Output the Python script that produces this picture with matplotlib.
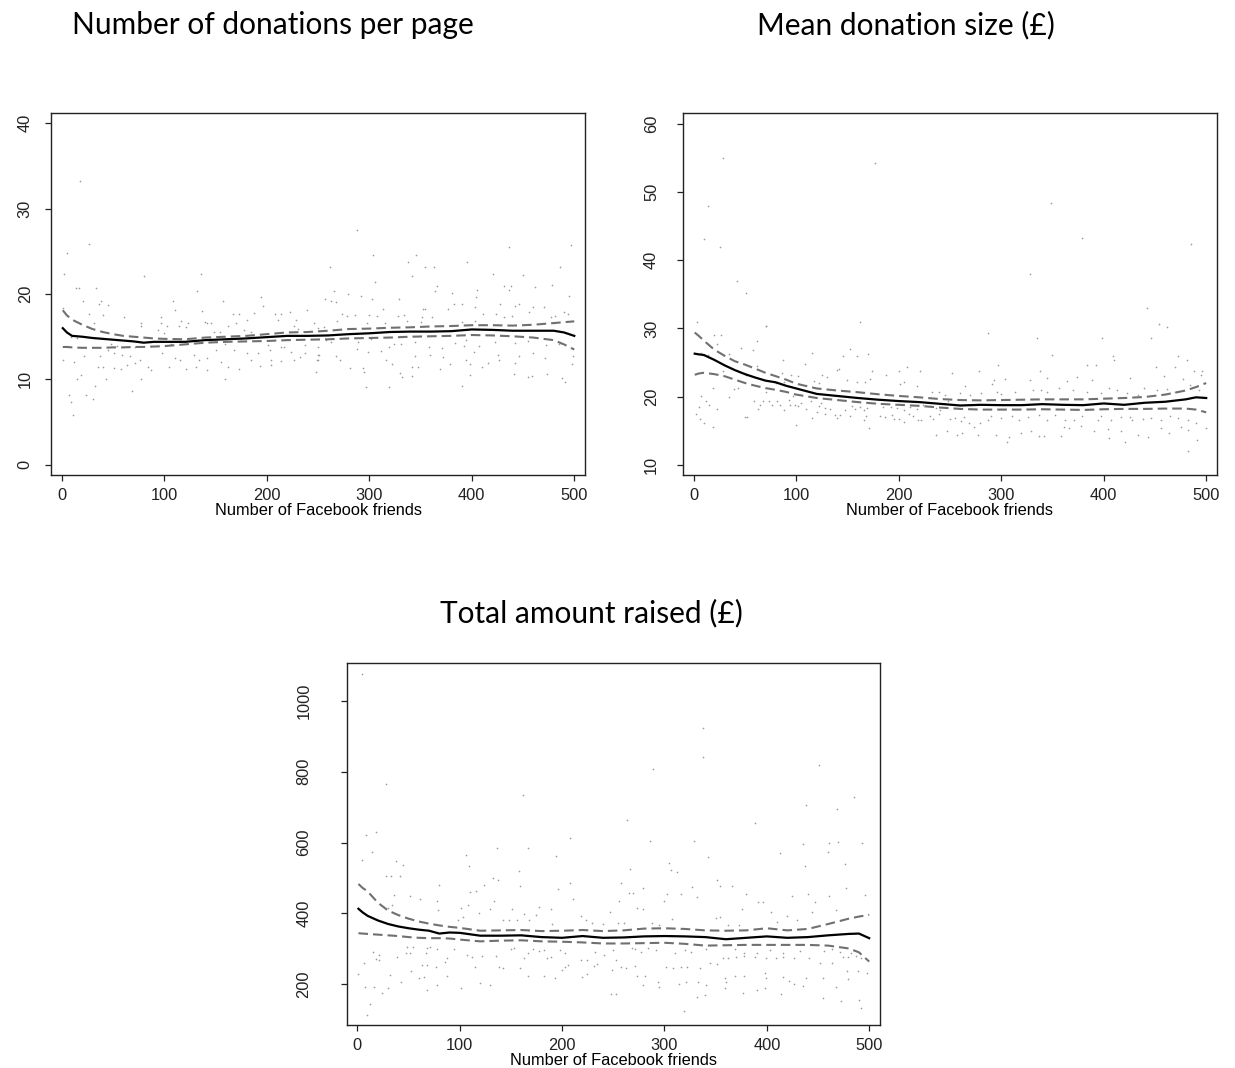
import matplotlib
matplotlib.use("Agg")
import matplotlib.pyplot as plt

# x grid (number of Facebook friends) for the smoothed curves
friends = [1, 5, 10, 20, 30, 40, 50, 60, 70, 80, 90, 100, 120, 140, 160, 180, 200,
           220, 240, 260, 280, 300, 320, 340, 360, 380, 400, 420, 440, 460, 480, 490, 500]

# --- Number of donations per page ---
don_mean = [16.0, 15.5, 15.1, 15.0, 14.85, 14.75, 14.65, 14.55, 14.45, 14.3, 14.4, 14.4, 14.4,
            14.6, 14.7, 14.8, 14.95, 15.1, 15.1, 15.15, 15.3, 15.4, 15.55, 15.6, 15.6, 15.65,
            15.85, 15.8, 15.7, 15.7, 15.7, 15.5, 15.1]
don_hi = [18.1, 17.5, 17.0, 16.4, 15.9, 15.55, 15.3, 15.1, 15.0, 14.9, 14.8, 14.75, 14.7, 14.9,
          15.0, 15.1, 15.3, 15.5, 15.55, 15.7, 15.9, 15.95, 16.05, 16.1, 16.2, 16.25, 16.35,
          16.35, 16.3, 16.4, 16.6, 16.7, 16.8]
don_lo = [13.8, 13.8, 13.75, 13.7, 13.7, 13.7, 13.75, 13.75, 13.8, 13.8, 13.85, 13.9, 14.1, 14.3,
          14.4, 14.45, 14.5, 14.6, 14.65, 14.7, 14.8, 14.85, 14.9, 15.0, 15.05, 15.1, 15.2,
          15.15, 15.05, 14.9, 14.6, 14.1, 13.5]
don_dots = [
    (2, 22.4), (80, 22.1), (136, 22.3), (14, 20.7), (17, 20.7), (33, 20.7), (132, 20.4),
    (21, 19.2), (38, 19.2), (109, 19.2), (157, 19.2), (194, 19.7), (36, 18.8), (45, 18.7),
    (196, 18.6), (1, 18.4), (110, 18.1), (137, 18.0), (27, 17.7), (40, 17.6), (61, 17.3),
    (97, 17.3), (167, 17.65), (173, 17.65), (188, 17.8), (208, 17.7), (214, 17.65), (223, 17.9),
    (239, 18.1), (31, 16.6), (77, 16.6), (97, 16.6), (116, 16.8), (140, 16.7), (146, 16.6),
    (181, 17.0), (211, 17.0), (229, 17.0), (246, 16.6), (77, 16.2), (103, 16.3), (121, 16.1),
    (123, 16.6), (142, 16.6), (162, 16.3), (170, 16.6), (94, 15.8), (100, 15.4), (114, 16.2),
    (149, 15.6), (154, 15.6), (178, 15.8), (185, 15.6), (227, 16.2), (230, 15.9), (9, 15.0),
    (15, 14.8), (48, 14.1), (54, 13.9), (71, 13.8), (87, 13.9), (107, 14.2), (133, 14.6),
    (159, 14.2), (175, 14.5), (201, 14.0), (217, 13.8), (237, 14.0), (250, 13.8), (1, 12.3),
    (12, 12.0), (22, 12.7), (37, 12.7), (45, 13.4), (51, 13.1), (59, 12.9), (67, 12.7),
    (76, 12.3), (98, 13.1), (110, 12.5), (115, 12.3), (129, 12.9), (134, 12.3), (142, 12.5),
    (150, 13.4), (155, 12.0), (168, 13.4), (181, 13.1), (185, 12.3), (191, 13.1), (203, 13.4),
    (204, 12.3), (214, 13.8), (224, 13.2), (227, 12.3), (232, 12.6), (237, 13.05), (251, 12.9),
    (35, 11.4), (40, 11.4), (51, 11.3), (58, 11.2), (64, 11.7), (71, 11.9), (84, 11.5),
    (87, 11.1), (105, 11.4), (121, 11.2), (131, 11.4), (142, 11.1), (162, 11.4), (173, 11.2),
    (193, 11.6), (204, 11.7), (214, 12.1), (250, 12.3), (15, 10.1), (19, 10.5), (43, 10.1),
    (77, 10.1), (159, 10.0), (32, 9.2), (69, 8.7), (7, 8.2), (24, 8.2), (30, 7.7), (9, 7.3),
    (11, 5.8),
    (18, 33.2), (27, 25.9), (5, 24.8), (288, 27.5), (304, 24.6), (346, 24.6), (436, 25.5),
    (497, 25.7), (338, 23.8), (395, 23.7), (262, 23.2), (354, 23.2), (363, 23.2), (486, 23.2),
    (342, 22.1), (421, 22.3), (450, 22.2), (306, 21.4), (366, 20.9), (431, 20.9), (438, 20.9),
    (462, 20.85), (478, 21.0), (266, 20.4), (364, 20.3), (381, 20.15), (405, 20.5), (436, 20.5),
    (257, 19.4), (263, 19.2), (268, 19.1), (279, 20.0), (292, 19.8), (303, 19.4), (329, 19.4),
    (404, 19.7), (495, 19.8), (383, 18.8), (390, 18.8), (403, 18.5), (428, 18.8), (442, 18.6),
    (446, 18.8), (460, 18.5), (470, 18.5), (313, 18.2), (352, 18.2), (354, 18.2), (377, 18.3),
    (273, 17.7), (278, 17.4), (286, 17.6), (300, 17.5), (308, 17.4), (328, 17.4), (334, 17.6),
    (351, 17.3), (361, 17.3), (411, 17.7), (424, 17.7), (431, 17.3), (439, 17.4), (456, 17.9),
    (477, 17.3), (481, 17.4), (490, 17.9), (494, 17.7), (269, 16.8), (298, 16.6), (315, 16.6),
    (337, 16.8), (350, 16.7), (390, 16.7), (403, 16.8), (480, 16.6), (256, 16.1), (250, 16.0),
    (258, 14.6), (263, 14.4), (289, 14.4), (302, 14.7), (324, 14.2), (331, 14.1), (345, 14.4),
    (358, 13.8), (371, 13.7), (384, 14.3), (392, 13.9), (394, 14.6), (407, 13.9), (423, 14.4),
    (442, 14.3), (455, 14.5), (472, 14.0), (485, 14.2), (288, 13.6), (299, 13.2), (311, 13.3),
    (319, 13.75), (359, 12.9), (372, 12.6), (402, 13.2), (426, 12.9), (446, 12.7), (460, 13.1),
    (249, 12.3), (268, 12.7), (271, 12.3), (316, 12.3), (322, 11.8), (345, 12.7), (379, 11.8),
    (394, 12.3), (398, 11.8), (410, 11.4), (416, 11.9), (442, 11.96), (471, 12.5), (499, 12.7),
    (498, 11.8), (281, 11.3), (294, 11.3), (295, 10.9), (342, 11.4), (348, 11.4), (369, 11.2),
    (427, 12.3), (441, 10.6), (455, 10.3), (459, 10.4), (473, 10.6), (488, 10.2), (491, 9.66),
    (330, 10.7), (332, 10.3), (342, 10.4), (248, 10.9), (297, 9.15), (319, 9.1), (390, 9.2),
    (398, 10.5), (250, 12.9),
]

# --- Mean donation size (GBP) ---
size_mean = [26.3, 26.2, 26.1, 25.4, 24.6, 23.9, 23.3, 22.8, 22.35, 22.1, 21.6, 21.2, 20.4,
             20.1, 19.8, 19.55, 19.35, 19.2, 18.95, 18.7, 18.8, 18.75, 18.75, 18.9, 18.8, 18.75,
             19.0, 18.8, 19.1, 19.25, 19.6, 19.9, 19.8]
size_hi = [29.4, 28.9, 28.2, 26.9, 26.0, 25.2, 24.7, 24.1, 23.5, 23.0, 22.5, 21.9, 21.2, 20.9,
           20.65, 20.35, 20.1, 19.9, 19.65, 19.5, 19.45, 19.5, 19.55, 19.6, 19.6, 19.6, 19.7,
           19.8, 19.95, 20.3, 20.9, 21.4, 22.0]
size_lo = [23.2, 23.4, 23.5, 23.3, 23.0, 22.5, 22.0, 21.6, 21.25, 21.0, 20.7, 20.3, 19.8, 19.5,
           19.2, 18.95, 18.8, 18.65, 18.4, 18.2, 18.1, 18.1, 18.1, 18.15, 18.1, 18.05, 18.15,
           18.2, 18.2, 18.25, 18.25, 18.1, 17.7]
size_dots = [
    (3, 30.9), (71, 30.4), (162, 30.9), (20, 29.1), (27, 29.1), (62, 28.1), (23, 27.7),
    (58, 26.9), (46, 27.1), (14, 26.1), (7, 26.4), (34, 26.3), (115, 26.4), (152, 27.0),
    (159, 25.9), (170, 26.3), (87, 25.4), (146, 25.9), (62, 24.5), (109, 24.8), (140, 23.9),
    (142, 24.0), (29, 23.7), (86, 23.5), (95, 23.1), (102, 23.05), (51, 23.2), (125, 23.2),
    (174, 23.7), (188, 23.2), (200, 23.7), (208, 24.3), (221, 23.7), (252, 23.5), (19, 21.2),
    (39, 21.1), (43, 21.2), (63, 21.5), (71, 20.75), (80, 21.97), (88, 22.2), (117, 22.3),
    (122, 21.97), (130, 22.9), (150, 22.5), (159, 22.2), (167, 22.2), (172, 22.6), (201, 21.9),
    (205, 22.2), (218, 21.5), (232, 20.75), (239, 20.75), (245, 20.3), (34, 20.0), (7, 20.1),
    (12, 19.4), (5, 18.5), (15, 18.7), (23, 18.2), (59, 19.4), (65, 18.8), (68, 19.4),
    (73, 19.4), (76, 18.7), (81, 19.3), (84, 18.7), (88, 18.1), (93, 19.5), (94, 18.7),
    (97, 20.1), (99, 18.8), (102, 18.6), (105, 19.0), (110, 18.2), (114, 19.3), (120, 17.8),
    (122, 18.6), (124, 19.0), (128, 18.3), (148, 18.1), (154, 18.6), (157, 18.2), (162, 18.5),
    (166, 18.1), (169, 18.3), (177, 19.0), (185, 18.5), (192, 18.5), (198, 18.3), (205, 18.1),
    (211, 18.5), (218, 18.2), (224, 18.8), (231, 18.6), (236, 18.3), (240, 18.1), (2, 17.5),
    (6, 16.7), (10, 16.2), (19, 15.6), (50, 17.0), (52, 17.0), (100, 15.9), (115, 16.8),
    (128, 17.4), (138, 17.3), (140, 16.8), (152, 17.1), (166, 16.6), (168, 17.2), (182, 17.1),
    (187, 17.0), (193, 17.3), (195, 16.7), (200, 16.7), (205, 16.3), (210, 17.5), (214, 17.1),
    (219, 16.6), (222, 16.5), (231, 17.1), (233, 16.7), (239, 17.5), (171, 15.4), (236, 14.4),
    (63, 18.2), (133, 18.2), (143, 17.3),
    (29, 55.0), (177, 54.3), (14, 48.0), (10, 43.1), (26, 42.0), (42, 36.9), (51, 35.2),
    (71, 30.4),
    (349, 48.4), (379, 43.3), (485, 42.4), (328, 38.0), (442, 33.0), (454, 30.6), (462, 30.2),
    (287, 29.3), (335, 28.6), (398, 28.6), (446, 28.6), (350, 26.1), (409, 25.9), (472, 26.0),
    (297, 24.7),
    (410, 25.3), (481, 25.3), (278, 23.8), (338, 23.8), (384, 24.7), (392, 24.7), (451, 24.4),
    (470, 24.3), (488, 23.8), (496, 23.8), (293, 22.4), (304, 22.6), (328, 22.5), (345, 22.7),
    (364, 22.3), (374, 22.9), (389, 22.5), (426, 22.7), (459, 23.05), (477, 22.6), (495, 23.2),
    (265, 21.6), (260, 20.6), (270, 20.3), (280, 20.6), (291, 21.9), (296, 20.75), (300, 20.4),
    (313, 20.75), (331, 20.9), (339, 21.0), (345, 20.75), (356, 21.2), (370, 21.0), (384, 20.75),
    (397, 20.6), (405, 21.2), (413, 20.9), (423, 20.5), (433, 20.3), (439, 21.2), (452, 20.9),
    (462, 21.1), (470, 20.75), (484, 21.7), (493, 21.0), (248, 19.3), (250, 16.7), (255, 16.8),
    (261, 16.4), (264, 17.0), (269, 16.1), (273, 15.6), (279, 16.2), (287, 16.6), (290, 17.1),
    (300, 16.8), (311, 17.1), (317, 16.6), (326, 17.0), (337, 17.3), (345, 16.6), (352, 17.3),
    (362, 16.5), (371, 16.6), (379, 17.1), (394, 16.6), (397, 17.1), (407, 16.6), (417, 17.0),
    (426, 17.0), (438, 16.7), (446, 16.8), (456, 16.6), (465, 17.1), (472, 16.8), (482, 16.6),
    (490, 16.2), (500, 15.4), (247, 15.0), (257, 14.4), (262, 14.6), (277, 14.4), (295, 14.4),
    (308, 14.1), (319, 14.7), (329, 14.9), (337, 14.3), (358, 14.2), (366, 15.4), (378, 15.7),
    (391, 14.9), (404, 15.2), (417, 15.0), (433, 14.4), (443, 14.1), (456, 15.4), (475, 15.6),
    (482, 15.1), (428, 16.6), (405, 13.9), (421, 13.3), (464, 14.6), (491, 13.6), (482, 12.1),
    (306, 13.3), (342, 14.2), (361, 15.5),
]

# --- Total amount raised (GBP) ---
total_mean = [413, 403, 393, 380, 370, 363, 358, 354, 351, 343, 346, 345, 337, 337, 338, 333,
              331, 336, 331, 332, 335, 336, 335, 333, 327, 331, 335, 331, 333, 338, 342, 343, 330]
total_hi = [483, 472, 462, 430, 408, 395, 385, 377, 371, 366, 362, 359, 351, 352, 353, 350,
            351, 353, 350, 352, 357, 358, 356, 352, 351, 352, 358, 352, 356, 370, 385, 391, 396]
total_lo = [344, 343, 342, 340, 338, 336, 333, 331, 330, 330, 329, 326, 321, 323, 324, 321,
            320, 318, 315, 315, 316, 317, 314, 309, 310, 311, 311, 311, 311, 309, 301, 290, 264]
total_dots = [
    (14, 572), (4, 551), (106, 565), (194, 562), (38, 549), (45, 537), (109, 534), (158, 521),
    (28, 506), (33, 506), (42, 506), (132, 501), (137, 493), (124, 481), (208, 487), (80, 481),
    (159, 476), (196, 469), (36, 452), (51, 449), (61, 440), (110, 459), (116, 462), (78, 436),
    (133, 436), (211, 440), (108, 424), (34, 424), (30, 415), (79, 410), (101, 415), (119, 402),
    (130, 412), (151, 412), (163, 399), (177, 417), (174, 396), (189, 412), (218, 393),
    (223, 380), (229, 374), (240, 370), (142, 382), (148, 382), (156, 380), (168, 382),
    (190, 370), (98, 380), (103, 391), (48, 304), (54, 304), (68, 302), (71, 306), (78, 299),
    (47, 288), (51, 288), (21, 283), (39, 276), (15, 292), (6, 259), (1, 229), (18, 271),
    (21, 267), (67, 288), (94, 299), (107, 283), (112, 278), (122, 280), (135, 280), (150, 299),
    (153, 302), (163, 273), (167, 288), (172, 299), (177, 295), (182, 297), (185, 273),
    (189, 276), (198, 297), (203, 288), (218, 269), (224, 269), (232, 292), (241, 283),
    (250, 297), (63, 255), (68, 255), (77, 250), (88, 273), (86, 264), (115, 248), (138, 250),
    (142, 245), (159, 245), (167, 222), (182, 224), (193, 217), (200, 240), (203, 250),
    (206, 255), (219, 219), (224, 228), (231, 252), (234, 257), (32, 226), (52, 236), (60, 217),
    (65, 220), (88, 223), (7, 193), (16, 192), (24, 176), (30, 189), (43, 207), (68, 184),
    (78, 198), (101, 189), (120, 203), (130, 198), (12, 144), (9, 113), (253, 173),
    (4, 1077), (28, 766), (162, 735), (8, 622), (18, 631), (208, 612), (167, 584), (136, 584),
    (338, 923), (338, 841), (451, 818), (289, 808), (485, 728), (438, 706), (469, 695),
    (388, 656), (263, 664), (286, 603), (329, 603), (435, 596), (461, 598), (470, 601),
    (493, 598), (413, 570), (343, 560), (304, 542), (312, 518), (266, 526), (437, 535),
    (476, 538), (351, 495), (366, 476), (279, 473), (496, 452),
    (460, 572), (306, 523), (258, 485), (265, 457), (269, 457), (302, 455), (316, 455),
    (332, 445), (354, 478), (327, 474), (380, 455), (425, 448), (440, 454), (461, 448),
    (477, 471), (256, 434), (273, 415), (279, 412), (300, 434), (391, 431), (396, 431),
    (404, 405), (376, 412), (447, 431), (468, 410), (420, 393), (429, 382), (444, 405),
    (307, 384), (350, 386), (354, 391), (373, 368), (410, 377), (255, 372), (260, 372),
    (288, 372), (295, 368), (362, 368), (247, 405), (268, 302), (271, 299), (277, 292),
    (284, 302), (292, 297), (310, 288), (320, 297), (326, 292), (341, 300), (369, 299),
    (378, 288), (390, 288), (403, 297), (416, 289), (432, 295), (456, 295), (464, 299),
    (471, 292), (474, 278), (479, 278), (482, 288), (487, 280), (492, 273), (253, 269),
    (258, 250), (262, 247), (271, 252), (301, 250), (308, 245), (316, 248), (322, 250),
    (335, 245), (344, 261), (351, 257), (357, 273), (362, 273), (370, 278), (378, 280),
    (388, 276), (399, 273), (409, 273), (416, 278), (427, 273), (441, 273), (452, 259),
    (464, 261), (478, 236), (489, 236), (498, 233), (249, 240), (273, 222), (281, 223),
    (294, 207), (295, 193), (314, 201), (321, 207), (333, 207), (341, 198), (359, 217),
    (360, 205), (369, 222), (378, 222), (398, 231), (399, 217), (416, 219), (422, 210),
    (427, 201), (435, 195), (438, 217), (455, 217), (468, 193), (479, 214), (248, 173),
    (279, 198), (332, 165), (340, 170), (359, 189), (377, 174), (390, 184), (398, 189),
    (414, 173), (455, 160), (472, 154), (490, 156), (492, 132), (319, 125),
]

x_ticks = [0, 100, 200, 300, 400, 500]
x_label = "Number of Facebook friends"

plt.rcParams["font.family"] = ["Liberation Sans", "DejaVu Sans"]

fig = plt.figure(figsize=(12.35, 10.68), dpi=100)


def draw_panel(ax, dots, mean, hi, lo, ylim, yticks, ypad):
    dx, dy = zip(*dots)
    ax.plot(dx, dy, ls="none", marker="o", ms=1.2, mew=0, color="#9a9a9a")
    ax.plot(friends, hi, color="#707070", lw=1.5, ls=(0, (4.6, 2.4)))
    ax.plot(friends, lo, color="#707070", lw=1.5, ls=(0, (4.6, 2.4)))
    ax.plot(friends, mean, color="black", lw=1.6)
    ax.set_xlim(-10.5, 510.5)
    ax.set_ylim(*ylim)
    ax.set_xticks(x_ticks)
    ax.set_yticks(yticks)
    ax.tick_params(direction="out", length=4.3, width=0.9, labelsize=11.8,
                   colors="#222222", pad=5)
    ax.tick_params(axis="y", labelrotation=90, pad=ypad)
    for lab in ax.get_yticklabels():
        lab.set_va("center")
    ax.set_xlabel(x_label, fontsize=11.8, labelpad=0)
    for s in ax.spines.values():
        s.set_linewidth(1.0)
        s.set_color("#222222")


ax1 = fig.add_axes([0.0413, 0.5552, 0.4324, 0.3390])
draw_panel(ax1, don_dots, don_mean, don_hi, don_lo, (-1.2, 41.2), [0, 10, 20, 30, 40], 8.8)

ax2 = fig.add_axes([0.5530, 0.5552, 0.4324, 0.3390])
draw_panel(ax2, size_dots, size_mean, size_hi, size_lo, (8.5, 61.6),
           [10, 20, 30, 40, 50, 60], 13)

ax3 = fig.add_axes([0.2807, 0.0403, 0.4318, 0.3390])
draw_panel(ax3, total_dots, total_mean, total_hi, total_lo, (85, 1107),
           [200, 400, 600, 800, 1000], 21)

title_kw = dict(fontsize=21.5, family=["Lato", "DejaVu Sans"], ha="center", va="center")
fig.text(0.221, 0.9766, "Number of donations per page", **title_kw)
fig.text(0.7336, 0.9766, "Mean donation size (£)", **title_kw)
fig.text(0.4785, 0.426, "Total amount raised (£)", **title_kw)

fig.savefig("out.png", dpi=100)
